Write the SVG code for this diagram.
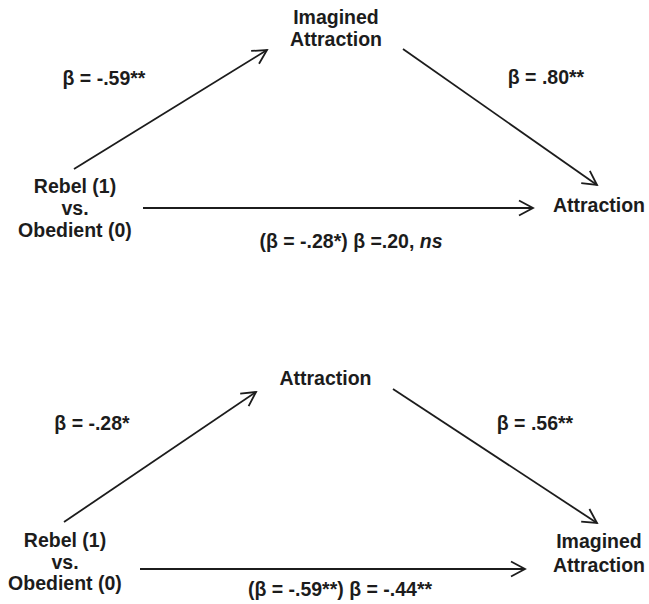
<svg xmlns="http://www.w3.org/2000/svg" width="649" height="604" viewBox="0 0 649 604">
<defs>
<style>
text{font-family:"Liberation Sans",Arial,sans-serif;font-weight:bold;font-size:19.5px;fill:#1c1c1c;text-anchor:middle}
.c line{stroke:#1c1c1c;stroke-width:1.8;fill:none;marker-end:url(#ah)}
</style>
<marker id="ah" markerUnits="userSpaceOnUse" viewBox="-16 -9 18 18" refX="0" refY="0" markerWidth="18" markerHeight="18" orient="auto">
<path d="M-14,-7.5 L0,0 L-14,7.5" fill="none" stroke="#1c1c1c" stroke-width="1.8"/>
</marker>
</defs>
<rect width="649" height="604" fill="#fff"/>
<g id="top-mediator"><text x="336" y="24">Imagined</text><text x="336" y="46">Attraction</text></g>
<g id="top-iv"><text x="75" y="193">Rebel (1)</text><text x="75" y="215">vs.</text><text x="75" y="237">Obedient (0)</text></g>
<g id="top-dv"><text x="599" y="212">Attraction</text></g>
<g id="top-labels">
<text x="104" y="85">β = -.59**</text>
<text x="546" y="84">β = .80**</text>
<text x="351" y="248">(β = -.28*) β =.20, <tspan font-style="italic">ns</tspan></text>
</g>
<g id="bot-mediator"><text x="325.5" y="385">Attraction</text></g>
<g id="bot-iv"><text x="65" y="547">Rebel (1)</text><text x="65" y="568.5">vs.</text><text x="65" y="590">Obedient (0)</text></g>
<g id="bot-dv"><text x="599" y="548">Imagined</text><text x="599" y="572">Attraction</text></g>
<g id="bot-labels">
<text x="92" y="430">β = -.28*</text>
<text x="535" y="430">β = .56**</text>
<text x="340" y="596">(β = -.59**) β = -.44**</text>
</g>
<g id="connectors" class="c">
<line x1="74" y1="169" x2="267" y2="50"/>
<line x1="403" y1="49" x2="597" y2="185"/>
<line x1="143" y1="208" x2="533" y2="208"/>
<line x1="64" y1="522" x2="256" y2="392"/>
<line x1="393" y1="389" x2="597" y2="523"/>
<line x1="140" y1="569" x2="525" y2="569"/>
</g>
</svg>
